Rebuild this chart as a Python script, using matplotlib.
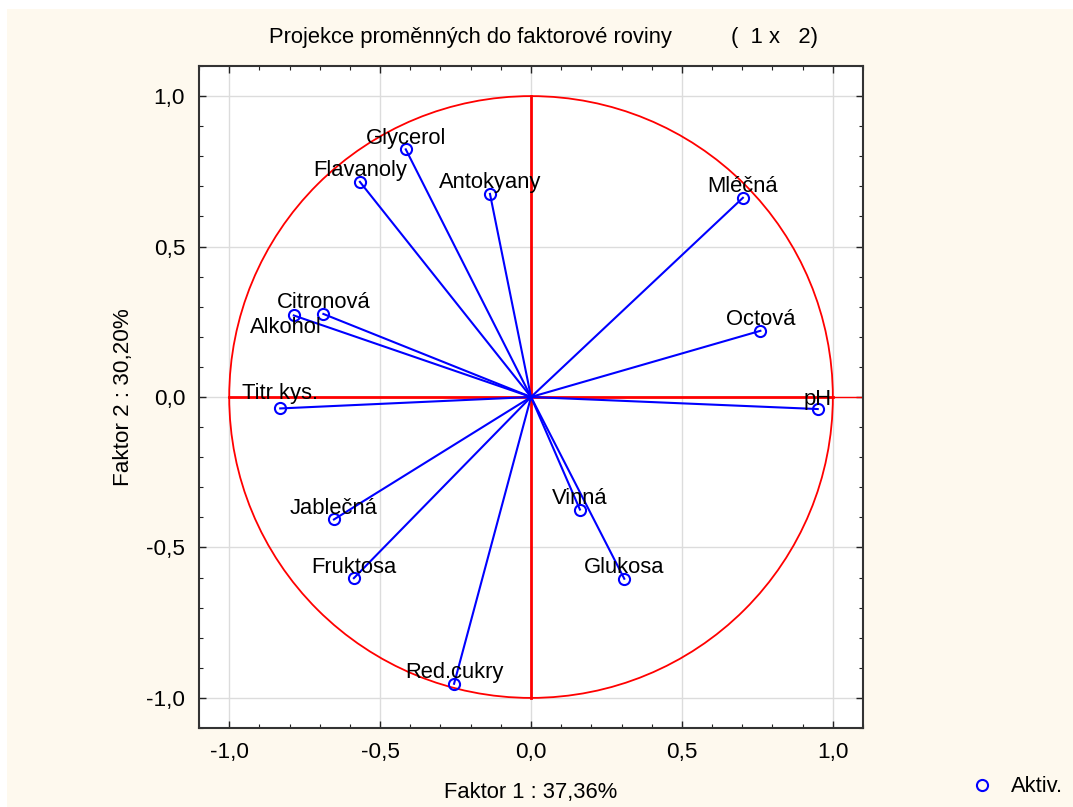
import numpy as np
import matplotlib
matplotlib.use("Agg")
import matplotlib.pyplot as plt
from matplotlib.patches import Circle, Rectangle
from matplotlib.lines import Line2D
from matplotlib.ticker import MultipleLocator

plt.rcParams['font.family'] = ['Liberation Sans', 'DejaVu Sans']

# factor loadings of the variables (factor 1, factor 2)
names = ["Glycerol", "Flavanoly", "Antokyany", "Mléčná", "Citronová", "Alkohol",
         "Octová", "Titr kys.", "pH", "Jablečná", "Vinná", "Fruktosa", "Glukosa",
         "Red.cukry"]
f1 = [-0.415, -0.567, -0.136, 0.702, -0.688, -0.786,
      0.760, -0.831, 0.950, -0.653, 0.162, -0.587, 0.309, -0.255]
f2 = [0.823, 0.715, 0.675, 0.662, 0.276, 0.271,
      0.220, -0.038, -0.040, -0.407, -0.374, -0.602, -0.604, -0.953]

tick_vals = [-1.0, -0.5, 0.0, 0.5, 1.0]
tick_labels = ["-1,0", "-0,5", "0,0", "0,5", "1,0"]

title_main = "Projekce proměnných do faktorové roviny"
title_dims = "(  1 x   2)"
xlabel = "Faktor 1 : 37,36%"
ylabel = "Faktor 2 : 30,20%"

# label offsets in points (default sits just above the point)
label_offsets = {"Alkohol": (-6, -12.5), "Titr kys.": (0, 6.5), "pH": (0, 3)}

cream = "#fef9ee"
fs = 15.8

fig = plt.figure(figsize=(10.73, 8.07), dpi=100, facecolor="white")
fig.patches.append(Rectangle((7 / 1073, 0), 1, 1 - 9 / 807, transform=fig.transFigure,
                             facecolor=cream, edgecolor="none", zorder=-10))

ax = fig.add_axes([0.1855, 0.0979, 0.8043 - 0.1855, 0.9182 - 0.0979])
ax.set_facecolor("white")
ax.set_xlim(-1.1, 1.1)
ax.set_ylim(-1.1, 1.1)

ax.set_xticks(tick_vals)
ax.set_xticklabels(tick_labels)
ax.set_yticks(tick_vals)
ax.set_yticklabels(tick_labels)
ax.xaxis.set_minor_locator(MultipleLocator(0.1))
ax.yaxis.set_minor_locator(MultipleLocator(0.1))
ax.tick_params(which="both", direction="in", top=True, right=True,
               labelsize=fs + 0.4, colors="#222222", labelcolor="black")
ax.tick_params(which="major", length=5, width=1, pad=10)
ax.tick_params(which="minor", length=3, width=0.8)
ax.grid(True, which="major", color="#dcdcdc", linewidth=1, zorder=0)
ax.set_axisbelow(True)
for sp in ax.spines.values():
    sp.set_color("#333333")
    sp.set_linewidth(1.5)

# unit circle and cross
ax.add_patch(Circle((0, 0), 1.0, fill=False, edgecolor="red", linewidth=1.3, zorder=2))
ax.plot([-1, 1], [0, 0], color="red", linewidth=2, zorder=2)
ax.plot([1, 1.1], [0, 0], color="red", linewidth=1, zorder=2)
ax.plot([0, 0], [-1, 1], color="red", linewidth=2, zorder=2)

for name, x, y in zip(names, f1, f2):
    ax.plot([0, x], [0, y], color="#0000ff", linewidth=1.5, zorder=3)
    ax.plot(x, y, marker="o", markersize=8, markerfacecolor="none",
            markeredgecolor="#0000ff", markeredgewidth=1.5, zorder=4)
    dx, dy = label_offsets.get(name, (0, 4))
    ax.annotate(name, (x, y), xytext=(dx, dy), textcoords="offset points",
                ha="center", va="baseline", fontsize=fs, zorder=5)

ax.set_xlabel(xlabel, fontsize=fs, labelpad=14)
ax.set_ylabel(ylabel, fontsize=fs + 0.4, labelpad=9)

fig.text(269 / 1073, 1 - 38 / 807, title_main, fontsize=fs, ha="left", va="center")
fig.text(731 / 1073, 1 - 38 / 807, title_dims, fontsize=fs, ha="left", va="center")

handle = Line2D([], [], linestyle="none", marker="o", markersize=8,
                markerfacecolor="none", markeredgecolor="#0000ff", markeredgewidth=1.5)
fig.legend([handle], ["Aktiv."], loc="center", bbox_to_anchor=(1017 / 1073, 1 - 787 / 807),
           frameon=False, fontsize=fs, handlelength=1.0, handletextpad=0.8)

fig.savefig("out.png", dpi=100, facecolor=fig.get_facecolor())
